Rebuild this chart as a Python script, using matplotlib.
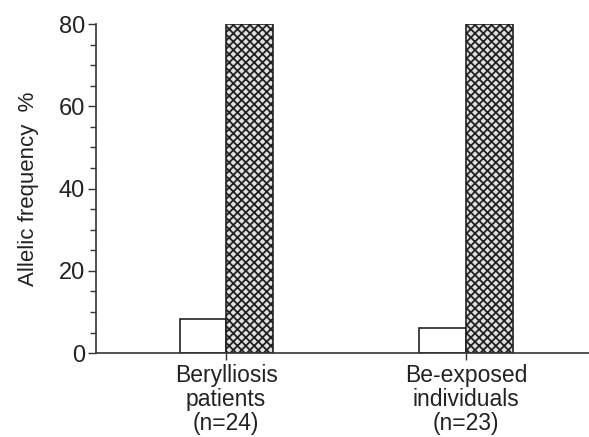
import numpy as np
import matplotlib.pyplot as plt
from matplotlib.ticker import MultipleLocator

plt.rcParams['font.family'] = ['Liberation Sans', 'DejaVu Sans']
plt.rcParams['hatch.color'] = '#444444'
plt.rcParams['hatch.linewidth'] = 1.3

### two groups, two alleles each
groups = ["Berylliosis\npatients\n(n=24)", "Be-exposed\nindividuals\n(n=23)"]
low_allele = [8.2, 6.2]
high_allele = [80.0, 80.0]

x = np.arange(len(groups))
w = 0.194

fig = plt.figure(figsize=(5.89, 4.37), dpi=100)
ax = fig.add_axes([0.163, 0.192, 0.837, 0.753])

ax.bar(x - w/2, low_allele, w, color="white", edgecolor="#222222", linewidth=1.2)
ax.bar(x + w/2, high_allele, w, color="#e0e0e0", edgecolor="#222222", linewidth=1.2, hatch="xxxx")

ax.set_xlim(-0.542, 1.5125)
ax.set_ylim(0, 80)
ax.set_xticks(x)
ax.set_xticklabels(groups, fontsize=16.5, linespacing=1.05, color="#222222")
ax.yaxis.set_major_locator(MultipleLocator(20))
ax.yaxis.set_minor_locator(MultipleLocator(5))
ax.tick_params(axis='y', which='major', labelsize=17, length=6, width=1, color="#333333",
               labelcolor="#222222", pad=2)
ax.tick_params(axis='y', which='minor', length=4, width=1, color="#333333")
ax.tick_params(axis='x', length=5, width=1, color="#333333", pad=3)

for s in ["top", "right"]:
    ax.spines[s].set_visible(False)
for s in ["left", "bottom"]:
    ax.spines[s].set_color("#333333")
    ax.spines[s].set_linewidth(1.2)

ax.set_ylabel("Allelic frequency  %", fontsize=16, labelpad=14, color="#222222")

fig.savefig("out.png", dpi=100)
